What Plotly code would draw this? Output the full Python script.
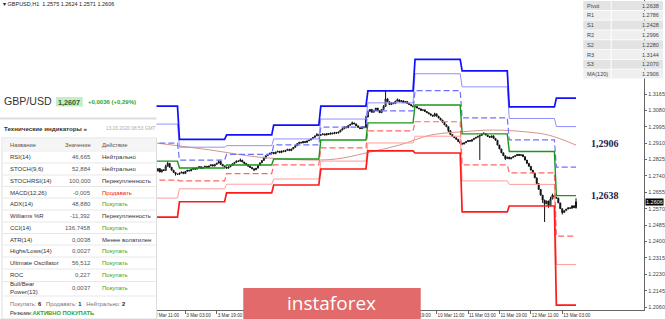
import plotly.graph_objects as go

W, H = 665, 319

# ------------------------------------------------------------------ data
header_text = "▾ GBPUSD,H1  1.2575 1.2624 1.2571 1.2606"

first_bar = 12          # first visible hourly bar (bar 0 = 2 Mar 00:00)
first_open = 1.2770
closes = [
    1.2765, 1.2778, 1.2760, 1.2772, 1.2768, 1.2790, 1.2805, 1.2785, 1.2770, 1.2758,
    1.2750, 1.2748, 1.2755, 1.2760, 1.2752, 1.2763, 1.2770, 1.2766, 1.2774, 1.2780,
    1.2775, 1.2782, 1.2788, 1.2779, 1.2785, 1.2790, 1.2784, 1.2792, 1.2798, 1.2791,
    1.2800, 1.2806, 1.2815, 1.2800, 1.2792, 1.2786, 1.2780, 1.2787, 1.2795, 1.2803,
    1.2810, 1.2818, 1.2816, 1.2822, 1.2812, 1.2805, 1.2798, 1.2790, 1.2784, 1.2777,
    1.2772, 1.2780, 1.2795, 1.2808, 1.2820, 1.2832, 1.2845, 1.2852, 1.2858, 1.2862,
    1.2855, 1.2864, 1.2868, 1.2861, 1.2870, 1.2866, 1.2873, 1.2878, 1.2871, 1.2880,
    1.2888, 1.2897, 1.2908, 1.2915, 1.2911, 1.2919, 1.2914, 1.2922, 1.2926, 1.2933,
    1.2940, 1.2948, 1.2955, 1.2950, 1.2954, 1.2958, 1.2952, 1.2960, 1.2956, 1.2963,
    1.2959, 1.2966, 1.2962, 1.2968, 1.2978, 1.2985, 1.2995, 1.2990, 1.3002, 1.3008,
    1.3015, 1.3010, 1.3000, 1.2992, 1.2985, 1.2995, 1.2990, 1.3045, 1.3075, 1.3085,
    1.3070, 1.3080, 1.3092, 1.3078, 1.3068, 1.3085, 1.3100, 1.3140, 1.3125, 1.3110,
    1.3120, 1.3115, 1.3128, 1.3135, 1.3125, 1.3130, 1.3120, 1.3126, 1.3116, 1.3110,
    1.3104, 1.3098, 1.3100, 1.3092, 1.3088, 1.3080, 1.3083, 1.3074, 1.3068, 1.3062,
    1.3055, 1.3050, 1.3062, 1.3050, 1.3040, 1.3030, 1.3018, 1.3005, 1.2995, 1.2975,
    1.2955, 1.2945, 1.2938, 1.2930, 1.2918, 1.2910, 1.2905, 1.2912, 1.2918, 1.2924,
    1.2920, 1.2928, 1.2935, 1.2940, 1.2946, 1.2950, 1.2958, 1.2960, 1.2952, 1.2945,
    1.2940, 1.2948, 1.2935, 1.2925, 1.2900, 1.2880, 1.2860, 1.2845, 1.2830, 1.2838,
    1.2828, 1.2835, 1.2840, 1.2845, 1.2852, 1.2846, 1.2850, 1.2840, 1.2822, 1.2805,
    1.2790, 1.2770, 1.2755, 1.2730, 1.2700, 1.2670, 1.2640, 1.2615, 1.2595, 1.2610,
    1.2585, 1.2620, 1.2640, 1.2630, 1.2625, 1.2600, 1.2570, 1.2550, 1.2560, 1.2568,
    1.2575, 1.2572, 1.2585, 1.2575, 1.2606,
]
wick_highs = {17: 1.2798, 18: 1.2815, 44: 1.2823, 55: 1.2830, 67: 1.2840, 94: 1.2962,
              112: 1.3022, 119: 1.3052, 128: 1.3108, 129: 1.3186, 135: 1.3142,
              154: 1.3068, 179: 1.2967, 213: 1.2632, 214: 1.2648, 226: 1.2624}
wick_lows = {22: 1.2742, 62: 1.2765, 161: 1.2968, 177: 1.2823, 190: 1.2822,
             209: 1.2600, 210: 1.2501, 212: 1.2575, 219: 1.2540, 226: 1.2571}

# daily pivot levels (one value per trading day)
day_start = [0, 24, 48, 72, 96, 120, 144, 168, 192, 216]
day_end = [23, 47, 71, 95, 119, 143, 167, 191, 215, 226]
lvl_r3 = [1.3102, 1.2930, 1.2953, 1.3004, 1.3102, 1.3181, 1.3345, 1.3285, 1.3098, 1.3144]
lvl_r2 = [1.3009, 1.2889, 1.2897, 1.2932, 1.3035, 1.3119, 1.3270, 1.3202, 1.3038, 1.2996]
lvl_r1 = [1.2910, 1.2822, 1.2852, 1.2901, 1.2993, 1.3077, 1.3183, 1.3041, 1.2927, 1.2786]
lvl_p = [1.2817, 1.2781, 1.2797, 1.2828, 1.2926, 1.3015, 1.3108, 1.2958, 1.2867, 1.2638]
lvl_s1 = [1.2718, 1.2714, 1.2752, 1.2797, 1.2885, 1.2974, 1.3021, 1.2797, 1.2756, 1.2428]
lvl_s2 = [1.2625, 1.2673, 1.2697, 1.2724, 1.2817, 1.2911, 1.2946, 1.2714, 1.2696, 1.2280]
lvl_s3 = [1.2526, 1.2606, 1.2652, 1.2693, 1.2776, 1.2870, 1.2859, 1.2553, 1.2584, 1.2070]

# MA(120)
ma_bar = [12, 40, 64, 88, 104, 119, 136, 152, 168, 184, 200, 212, 226]
ma_val = [1.2911, 1.2874, 1.2838, 1.2823, 1.2828, 1.2859, 1.2900, 1.2952, 1.2969,
          1.2978, 1.2969, 1.2952, 1.2900]

# axis ticks
x_tick_bars = [11, 27, 43, 59, 75, 91, 107, 123, 139, 155, 171, 187, 203, 219]
x_tick_text = ["2 Mar 11:00", "3 Mar 03:00", "3 Mar 19:00", "4 Mar 11:00", "5 Mar 03:00",
               "5 Mar 19:00", "6 Mar 11:00", "9 Mar 03:00", "9 Mar 19:00", "10 Mar 11:00",
               "11 Mar 03:00", "11 Mar 19:00", "12 Mar 11:00", "13 Mar 03:00"]
y_tick_vals = [1.3165, 1.3080, 1.2995, 1.2910, 1.2825, 1.2740, 1.2655, 1.2570,
               1.2485, 1.2400, 1.2315, 1.2230, 1.2145, 1.2060]
last_price = 1.2606

# pivot table (top right)
piv_names = ["Pivot", "R1", "S1", "R2", "S2", "R3", "S3", "MA(120)"]
piv_values = ["1.2638", "1.2786", "1.2428", "1.2996", "1.2280", "1.3144", "1.2070", "1.2906"]
level_labels = ["1,2906", "1,2638"]
level_label_vals = [1.2906, 1.2638]

# technical indicators panel
pair_name = "GBP/USD"
pair_price = "1,2607"
pair_change = "+0,0036 (+0,29%)"
panel_title = "Технические индикаторы »"
panel_date = "13.03.2020 08:53 GMT"
col_heads = ["Название", "Значение", "Действие"]
ind_names = ["RSI(14)", "STOCH(9,6)", "STOCHRSI(14)", "MACD(12,26)", "ADX(14)",
             "Williams %R", "CCI(14)", "ATR(14)", "Highs/Lows(14)", "Ultimate Oscillator",
             "ROC", "Bull/Bear<br>Power(13)"]
ind_values = ["46,665", "52,884", "100,000", "-0,005", "48,880", "-11,392", "136,7458",
              "0,0038", "0,0027", "56,512", "0,227", "0,0037"]
ind_actions = ["Нейтрально", "Нейтрально", "Перекупленность", "Продавать", "Покупать",
               "Перекупленность", "Покупать", "Менее волатилен", "Покупать", "Покупать",
               "Покупать", "Покупать"]
summary_counts = [("Покупать", 6), ("Продавать", 1), ("Нейтрально", 2)]
summary_label = "Резюме:"
summary_value = "АКТИВНО ПОКУПАТЬ"
logo_text = "instaforex"

# ------------------------------------------------------------------ build
bars = list(range(first_bar, first_bar + len(closes)))
opens = [first_open] + closes[:-1]
highs = [max(wick_highs.get(b, 0), o, c) for b, o, c in zip(bars, opens, closes)]
lows = [min(wick_lows.get(b, 9), o, c) for b, o, c in zip(bars, opens, closes)]

fig = go.Figure()

def level_trace(vals, color, width, dash="solid"):
    xs, ys = [], []
    for s, e, v in zip(day_start, day_end, vals):
        xs += [s, e]
        ys += [v, v]
    fig.add_trace(go.Scatter(x=xs, y=ys, mode="lines",
                             line=dict(color=color, width=width, dash=dash),
                             hoverinfo="skip", showlegend=False))

fig.add_trace(go.Scatter(x=ma_bar, y=ma_val, mode="lines",
                         line=dict(color="#d4948c", width=1, shape="spline"),
                         hoverinfo="skip", showlegend=False))
level_trace(lvl_r2, "#9090ff", 1)
level_trace(lvl_s2, "#ff9c9c", 1)
level_trace(lvl_r1, "#7070ff", 1.2, "6px,3px")
level_trace(lvl_s1, "#ff6666", 1.2, "6px,3px")
level_trace(lvl_p, "#1b961b", 1.4)
level_trace(lvl_r3, "#1010ff", 1.7)
level_trace(lvl_s3, "#ff1a1a", 1.7)

fig.add_trace(go.Candlestick(
    x=bars, open=opens, high=highs, low=lows, close=closes,
    increasing=dict(line=dict(color="#111111", width=1), fillcolor="#ffffff"),
    decreasing=dict(line=dict(color="#111111", width=1), fillcolor="#111111"),
    whiskerwidth=0, hoverinfo="skip", showlegend=False))

PX_PER_BAR = 1.969
x_lo = 24 - 180 / PX_PER_BAR
x_hi = x_lo + 646 / PX_PER_BAR
P_PER_PX = (1.3165 - 1.2060) / 213.0
y_hi = 1.3165 + 94 * P_PER_PX
y_lo = 1.3165 - 216 * P_PER_PX

def fx(px):
    return px / W

def fy(py):
    return 1 - py / H

FONT = "Liberation Sans, Arial, sans-serif"
shapes = []
ann = []

def rect(x0, y0, x1, y1, fill, line=None, lw=0):
    shapes.append(dict(type="rect", xref="paper", yref="paper", layer="above",
                       x0=fx(x0), x1=fx(x1), y0=fy(y1), y1=fy(y0), fillcolor=fill,
                       line=dict(color=line or fill, width=lw)))

def hline(x0, x1, y, color, width=1):
    shapes.append(dict(type="line", xref="paper", yref="paper", layer="above",
                       x0=fx(x0), x1=fx(x1), y0=fy(y), y1=fy(y),
                       line=dict(color=color, width=width)))

def text(t, x, y, size, color="#333333", xanchor="left", family=FONT, **kw):
    ann.append(dict(text=t, xref="paper", yref="paper", x=fx(x), y=fy(y),
                    xanchor=xanchor, yanchor="middle", showarrow=False, align=xanchor if xanchor != "center" else "center",
                    font=dict(size=size, color=color, family=family), **kw))

# header text
text(header_text, 1, 4, 5.5, "#222222")

# right pivot table
for i, (n, v) in enumerate(zip(piv_names, piv_values)):
    y0 = 1 + i * 9.8
    bg = "#e3e3e3" if i % 2 == 0 else "#efefef"
    rect(585, y0, 612.5, y0 + 9, bg)
    rect(613.5, y0, 665, y0 + 9, bg)
    text(n, 587, y0 + 4.6, 5.5, "#444444")
    text(v, 663, y0 + 4.6, 5.5, "#444444", xanchor="right")

# level labels
for t, v in zip(level_labels, level_label_vals):
    ann.append(dict(text="<b>%s</b>" % t, xref="paper", yref="y", x=fx(607), y=v,
                    xanchor="center", yanchor="middle", showarrow=False,
                    font=dict(size=10, color="#1c1c50",
                              family="Liberation Serif, Times New Roman, serif")))

# current price box
ann.append(dict(text=f"{last_price:.4f}", xref="paper", yref="y", x=fx(647), y=last_price,
                xanchor="left", yanchor="middle", showarrow=False, bgcolor="#000000",
                borderpad=0, font=dict(size=5.5, color="#ffffff", family=FONT)))

# left panel
rect(0, 88, 157, 319, "#ffffff")
text(pair_name, 2, 101.5, 10.6, "#333333")
rect(56, 97, 83, 106.5, "#c6eec6")
text("<b>%s</b>" % pair_price, 69.5, 102, 7.2, "#2d5a2d", xanchor="center")
text("<b>%s</b>" % pair_change, 86, 102, 6.0, "#2ea52e")
hline(0, 157, 118.5, "#dddddd", 2)
text("<b>%s</b>" % panel_title, 2, 128.5, 6.2, "#333333")
text(panel_date, 157, 128.5, 4.8, "#aaaaaa", xanchor="right")
rect(2, 138, 157, 319, "#ffffff", "#dddddd", 1)
rect(2.5, 138.5, 156.5, 150, "#f5f5f5")
text(col_heads[0], 8, 144.5, 5.8, "#555555")
text(col_heads[1], 93, 144.5, 5.8, "#555555", xanchor="right")
text(col_heads[2], 100, 144.5, 5.8, "#555555")
row_y = [157, 169, 181, 192.5, 204, 216, 228, 239.5, 251, 263, 275, 287.5]
for i, (n, v, a) in enumerate(zip(ind_names, ind_values, ind_actions)):
    yc = row_y[i]
    hline(3, 156, yc - 6, "#e8e8e8", 1)
    if a == "Покупать":
        ac = "#2ea52e"
    elif a == "Продавать":
        ac = "#ee2222"
    else:
        ac = "#333333"
    text(n, 8, yc, 6, "#333333")
    text(v, 93, yc, 6, "#555555", xanchor="right")
    text(a, 100, yc, 6, ac)
hline(3, 156, 296, "#e8e8e8", 1)
counts = "   ".join('%s: <span style="color:#222"><b>%d</b></span>' % (k, c) for k, c in summary_counts)
text(counts, 8, 303.5, 5.8, "#777777")
text('%s<span style="color:#2ea52e"><b>%s</b></span>' % (summary_label, summary_value),
     8, 312.5, 5.8, "#333333")

# logo
rect(244, 288, 422, 319, "#e26a6a")
text(logo_text, 333, 303, 19, "#ffffff", xanchor="center", family="Open Sans, sans-serif")

fig.update_layout(
    width=W, height=H, autosize=False,
    margin=dict(l=0, r=0, t=0, b=0),
    paper_bgcolor="#ffffff", plot_bgcolor="#ffffff",
    showlegend=False, hovermode=False,
    shapes=shapes, annotations=ann,
    xaxis=dict(range=[x_lo, x_hi], domain=[0, 646 / W], showgrid=False, zeroline=False,
               showline=True, linecolor="#666666", linewidth=1,
               ticks="outside", ticklen=3, tickcolor="#666666",
               tickvals=x_tick_bars, ticktext=x_tick_text, tickangle=0,
               ticklabelposition="outside right",
               tickfont=dict(size=4.6, color="#333333", family=FONT),
               rangeslider=dict(visible=False), fixedrange=True),
    yaxis=dict(range=[y_lo, y_hi], domain=[9 / H, 1], side="right", showgrid=False,
               zeroline=False, showline=True, linecolor="#666666", linewidth=1,
               ticks="outside", ticklen=2, tickcolor="#666666",
               tickvals=y_tick_vals, ticktext=["%.4f" % v for v in y_tick_vals],
               tickfont=dict(size=5.5, color="#444444", family=FONT), fixedrange=True),
)

fig.write_html("out.html", config={"displayModeBar": False, "staticPlot": True})
